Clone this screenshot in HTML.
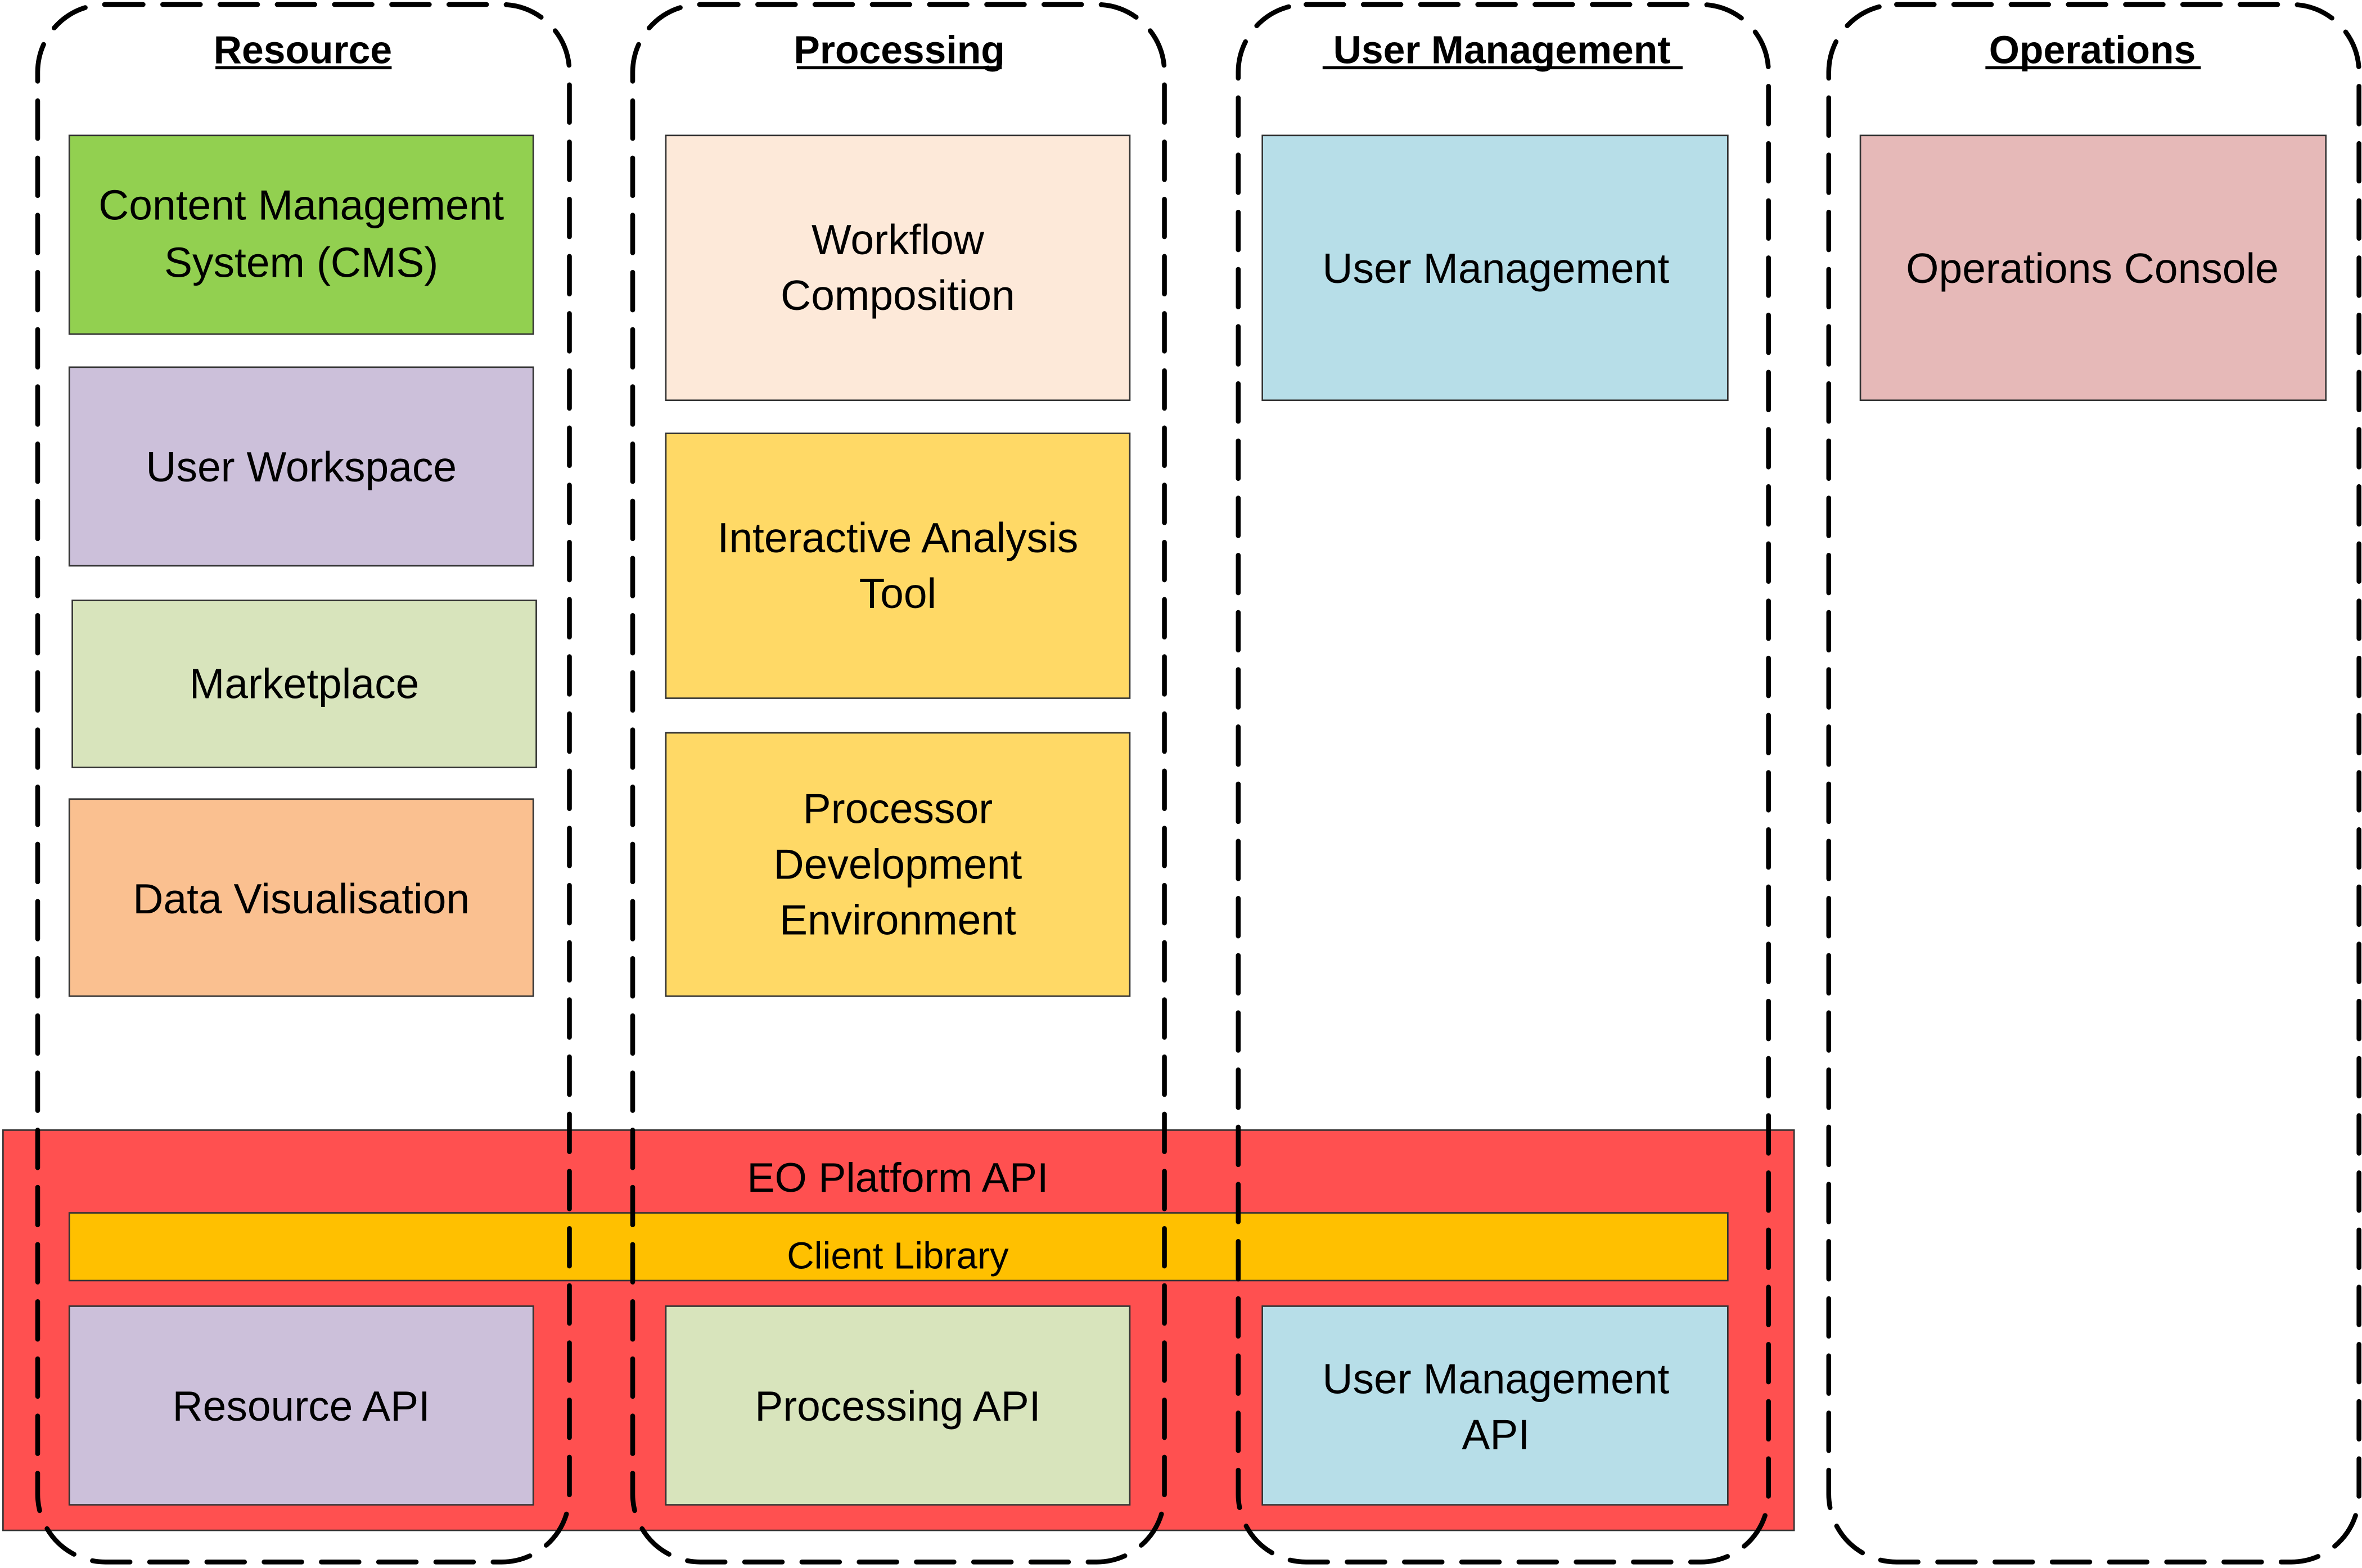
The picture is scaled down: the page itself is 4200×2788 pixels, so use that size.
<!DOCTYPE html>
<html><head><meta charset="utf-8"><style>
html,body{margin:0;padding:0;background:#fff;}
svg{display:block;}
text{font-family:"Liberation Sans",sans-serif;fill:#000;}
</style></head><body>
<svg width="4200" height="2788" viewBox="0 0 1568 1042" preserveAspectRatio="none" xmlns="http://www.w3.org/2000/svg">
<g stroke="#333" stroke-width="1">
<rect x="46" y="90" width="308" height="132" fill="#92d050"/>
<rect x="46" y="244" width="308" height="132" fill="#ccc0da"/>
<rect x="48" y="399" width="308" height="111" fill="#d8e4bc"/>
<rect x="46" y="531" width="308" height="131" fill="#fac090"/>
<rect x="442" y="90" width="308" height="176" fill="#fde9d9"/>
<rect x="442" y="288" width="308" height="176" fill="#ffd966"/>
<rect x="442" y="487" width="308" height="175" fill="#ffd966"/>
<rect x="838" y="90" width="309" height="176" fill="#b7dee8"/>
<rect x="1235" y="90" width="309" height="176" fill="#e6b9b8"/>
<rect x="2" y="751" width="1189" height="266" fill="#ff5050"/>
<rect x="46" y="806" width="1101" height="45" fill="#ffc000"/>
<rect x="46" y="868" width="308" height="132" fill="#ccc0da"/>
<rect x="442" y="868" width="308" height="132" fill="#d8e4bc"/>
<rect x="838" y="868" width="309" height="132" fill="#b7dee8"/>
</g>
<g font-size="28" text-anchor="middle">
<text x="200" y="146">Content Management</text>
<text x="200" y="184">System (CMS)</text>
<text x="200" y="320">User Workspace</text>
<text x="202" y="464">Marketplace</text>
<text x="200" y="607">Data Visualisation</text>
<text x="596" y="169">Workflow</text>
<text x="596" y="206">Composition</text>
<text x="596" y="367">Interactive Analysis</text>
<text x="596" y="404">Tool</text>
<text x="596" y="547">Processor</text>
<text x="596" y="584">Development</text>
<text x="596" y="621">Environment</text>
<text x="993" y="188">User Management</text>
<text x="1389" y="188">Operations Console</text>
<text x="596" y="792" font-size="27.5">EO Platform API</text>
<text x="596" y="843" font-size="25">Client Library</text>
<text x="200" y="944">Resource API</text>
<text x="596" y="944">Processing API</text>
<text x="993" y="926">User Management</text>
<text x="993" y="963">API</text>
</g>
<g font-size="26" font-weight="bold" text-anchor="middle">
<text x="201" y="42">Resource</text>
<text x="597" y="42">Processing</text>
<text x="997" y="42">User Management</text>
<text x="1389" y="42">Operations</text>
</g>
<g stroke="#000" stroke-width="2" fill="none">
<line x1="143" y1="45" x2="260" y2="45"/>
<line x1="529" y1="45" x2="665" y2="45"/>
<line x1="878" y1="45" x2="1117" y2="45"/>
<line x1="1318" y1="45" x2="1461" y2="45"/>
</g>
<g stroke="#000" stroke-width="3.2" fill="none" stroke-dasharray="25 13" stroke-linecap="round">
<rect x="25" y="3" width="353" height="1035" rx="45"/>
<rect x="420" y="3" width="353" height="1035" rx="45"/>
<rect x="822" y="3" width="352" height="1035" rx="45"/>
<rect x="1214" y="3" width="352" height="1035" rx="45"/>
</g>
</svg>
</body></html>
